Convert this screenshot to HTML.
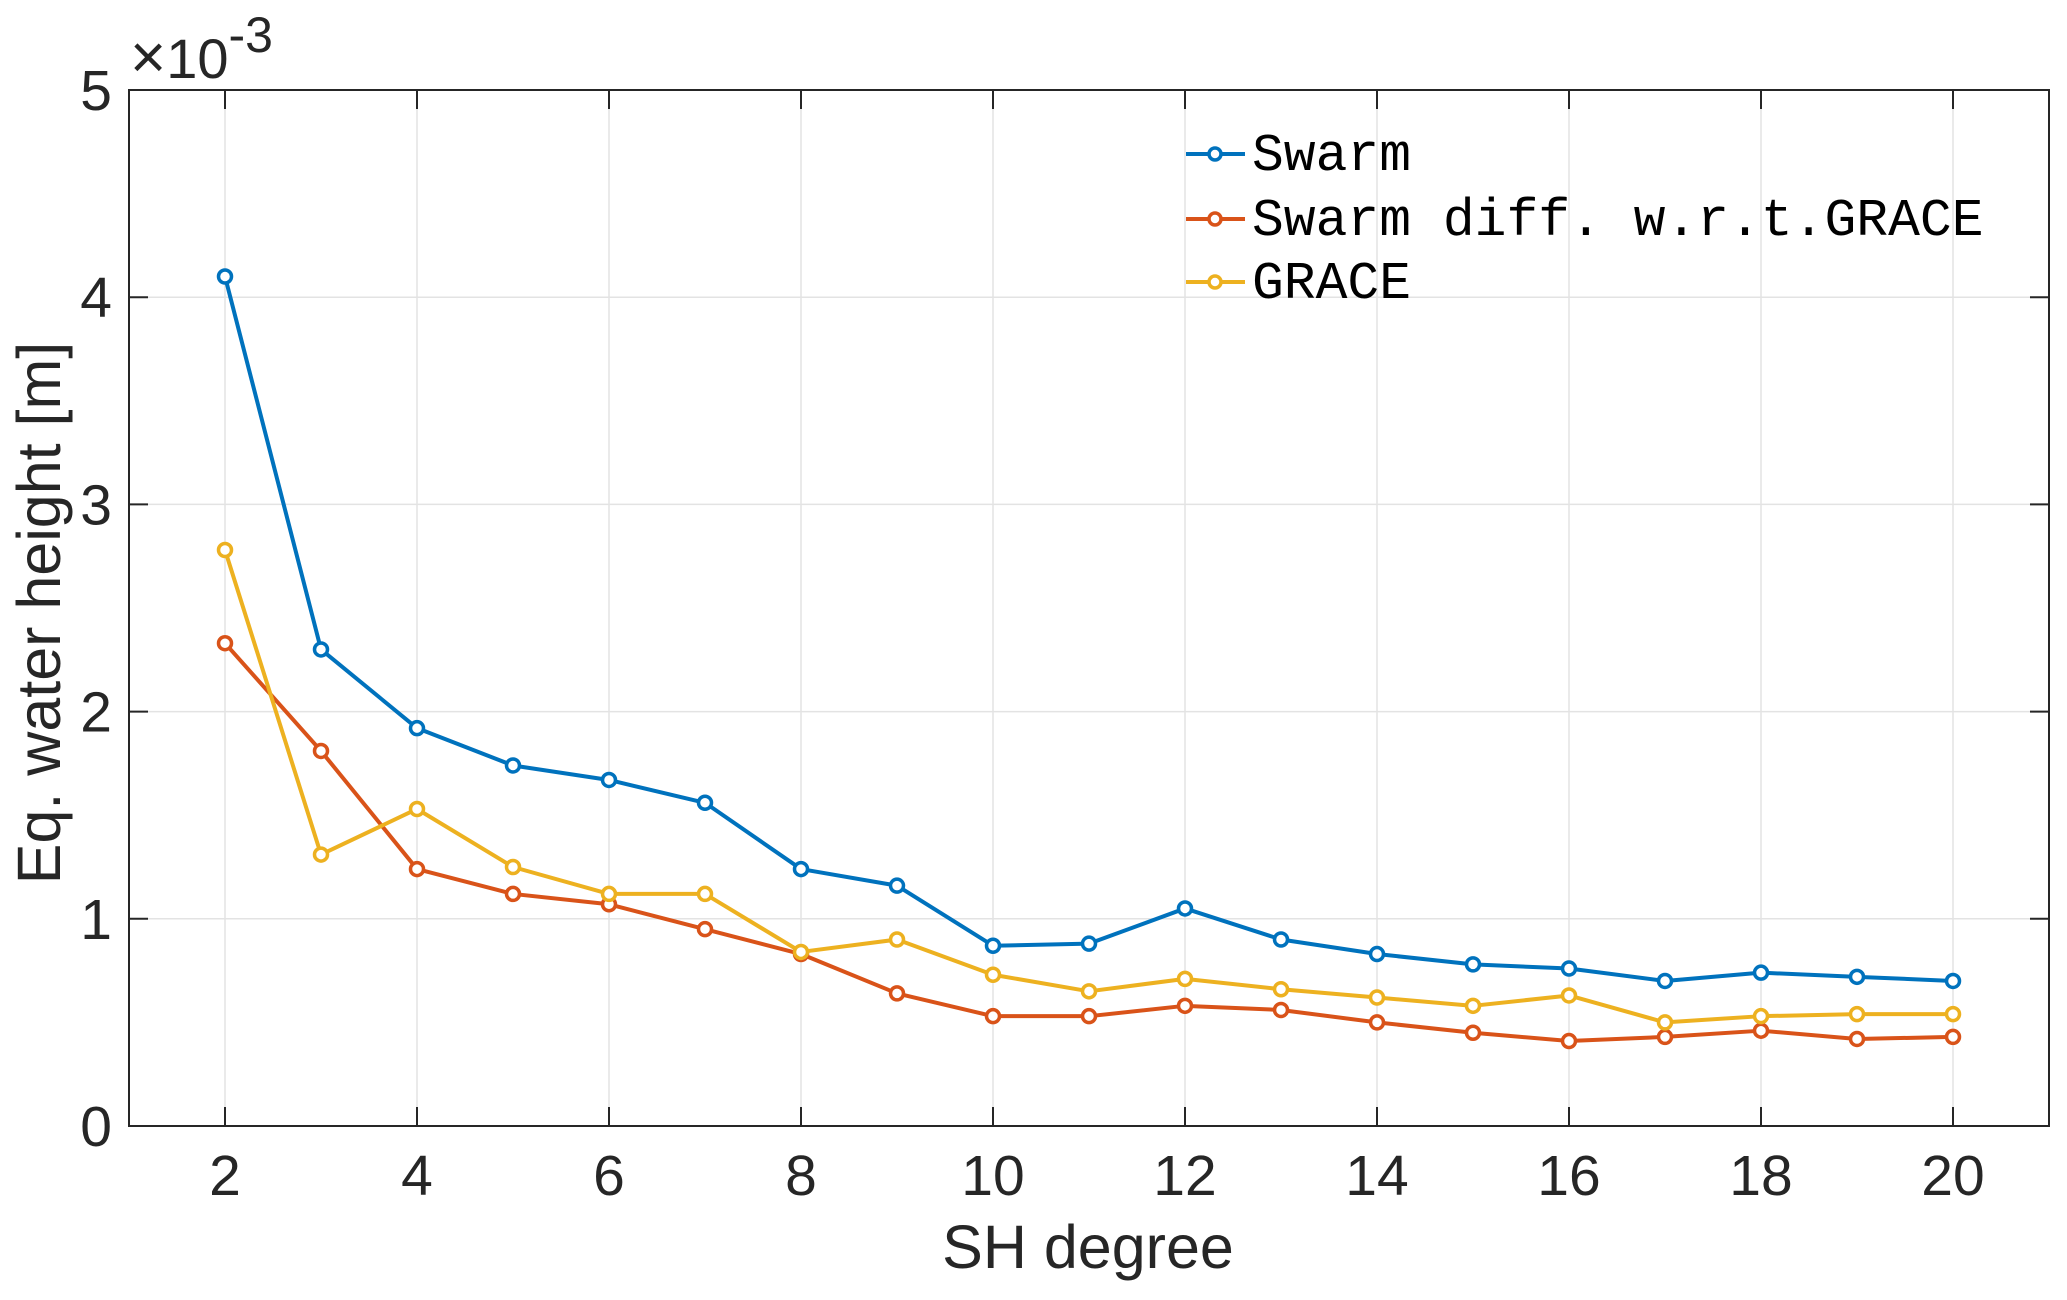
<!DOCTYPE html>
<html><head><meta charset="utf-8"><style>
html,body{margin:0;padding:0;background:#fff;}
svg{display:block;font-family:"Liberation Sans",Arial,sans-serif;}
</style></head><body>
<svg id="chart" width="2067" height="1300" viewBox="0 0 2067 1300">
<g id="grid"></g>
<g id="series"></g>
<rect x="129" y="90" width="1920" height="1036" fill="none" stroke="#262626" stroke-width="2"/>
<g id="ticks"></g>
<text x="130" y="78" font-size="56" fill="#262626"><tspan font-size="62">×</tspan>10<tspan dy="-26" font-size="50">-3</tspan></text>
<text x="1088" y="1268" font-size="61" fill="#262626" text-anchor="middle">SH degree</text>
<text transform="translate(60,613) rotate(-90)" font-size="61" fill="#262626" text-anchor="middle">Eq. water height [m]</text>
<g id="legend"></g>
</svg>
<script>
const degrees=[2,3,4,5,6,7,8,9,10,11,12,13,14,15,16,17,18,19,20];
const swarm=[4.1,2.3,1.92,1.74,1.67,1.56,1.24,1.16,0.87,0.88,1.05,0.90,0.83,0.78,0.76,0.70,0.74,0.72,0.70];
const swarmDiff=[2.33,1.81,1.24,1.12,1.07,0.95,0.83,0.64,0.53,0.53,0.58,0.56,0.50,0.45,0.41,0.43,0.46,0.42,0.43];
const grace=[2.78,1.31,1.53,1.25,1.12,1.12,0.84,0.90,0.73,0.65,0.71,0.66,0.62,0.58,0.63,0.50,0.53,0.54,0.54];
const xTicks=[2,4,6,8,10,12,14,16,18,20];
const yTicks=[0,1,2,3,4,5];
const seriesNames=["Swarm","Swarm diff. w.r.t.GRACE","GRACE"];
const NS="http://www.w3.org/2000/svg";
const L=129,R=2049,T=90,B=1126;
const xs=v=>L+(v-1)/20*(R-L);
const ys=v=>B-v/5*(B-T);
function mk(tag,attrs,parent){const e=document.createElementNS(NS,tag);for(const k in attrs)e.setAttribute(k,attrs[k]);parent.appendChild(e);return e;}
const grid=document.getElementById('grid'),ticks=document.getElementById('ticks');
xTicks.forEach(t=>{
  const g=mk('line',{x1:xs(t),x2:xs(t),y1:T,y2:B,stroke:'#e3e3e3','stroke-width':1.5},grid);
  
  
  const a=mk('line',{x1:xs(t),x2:xs(t),y1:B,y2:B-19,stroke:'#262626','stroke-width':2},ticks);
  
  
  const b=mk('line',{x1:xs(t),x2:xs(t),y1:T,y2:T+19,stroke:'#262626','stroke-width':2},ticks);
  
  
  const tx=mk('text',{x:xs(t),y:1195,'font-size':57,fill:'#262626','text-anchor':'middle'},ticks);
  tx.textContent=t;
  
  
});
yTicks.forEach(t=>{
  const g=mk('line',{x1:L,x2:R,y1:ys(t),y2:ys(t),stroke:'#e3e3e3','stroke-width':1.5},grid);
  
  
  const a=mk('line',{x1:L,x2:L+19,y1:ys(t),y2:ys(t),stroke:'#262626','stroke-width':2},ticks);
  
  
  const b=mk('line',{x1:R,x2:R-19,y1:ys(t),y2:ys(t),stroke:'#262626','stroke-width':2},ticks);
  
  
  const tx=mk('text',{x:112,y:ys(t)+20,'font-size':57,fill:'#262626','text-anchor':'end'},ticks);
  tx.textContent=t;
  
  
});
const colors=['#0072bd','#d95319','#edb120'];
const data=[swarm,swarmDiff,grace];
const sg=document.getElementById('series');
data.forEach((vals,i)=>{
  const pts=degrees.map((d,j)=>xs(d)+','+ys(vals[j])).join(' ');
  const pl=mk('polyline',{points:pts,fill:'none',stroke:colors[i],'stroke-width':4,'stroke-linejoin':'round'},sg);
  
  
  degrees.forEach((d,j)=>{
    const c=mk('circle',{cx:xs(d),cy:ys(vals[j]),r:6.5,fill:'#fff',stroke:colors[i],'stroke-width':3.5},sg);
    
    
  });
});
const lg=document.getElementById('legend');
const ly=[154,219,282];
seriesNames.forEach((n,i)=>{
  const l=mk('line',{x1:1186,x2:1245,y1:ly[i],y2:ly[i],stroke:colors[i],'stroke-width':4},lg);
  
  
  const c=mk('circle',{cx:1215,cy:ly[i],r:6,fill:'#fff',stroke:colors[i],'stroke-width':3.5},lg);
  
  
  const t=mk('text',{x:1252,y:ly[i]+16,'font-size':53,fill:'#000','font-family':'"Liberation Mono",monospace'},lg);
  t.textContent=n;
  
  
});
</script>
</body></html>
